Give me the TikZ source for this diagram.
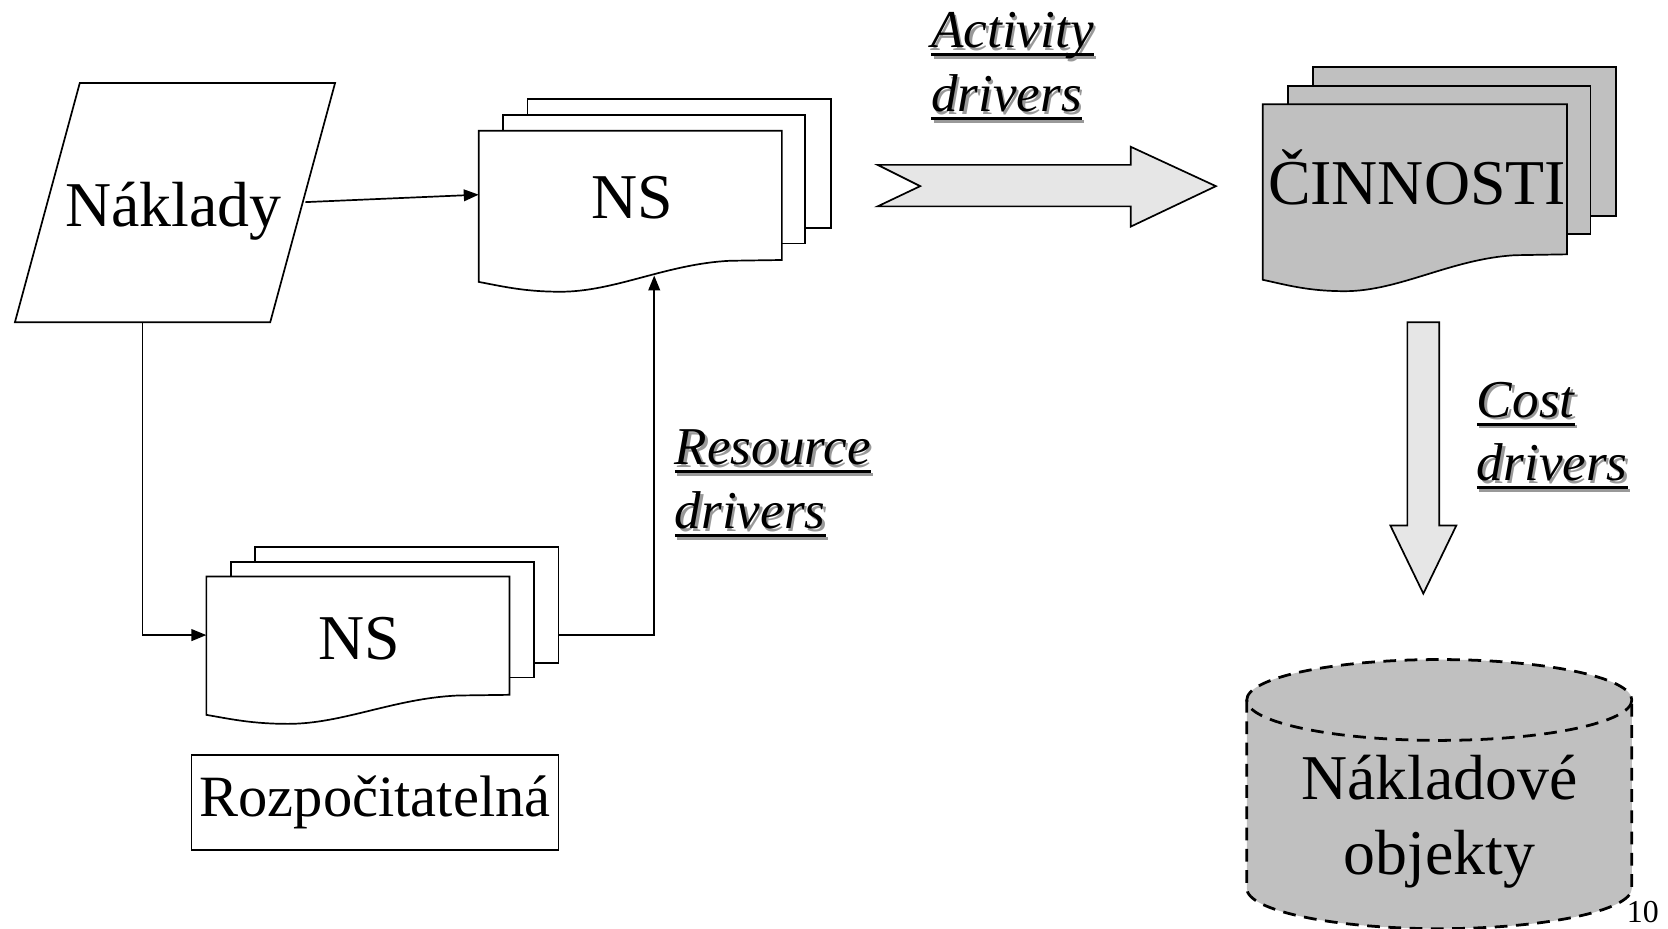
\documentclass[tikz,border=0pt]{standalone}
\usepackage{fontspec}
\setmainfont{Liberation Serif}
\usetikzlibrary{arrows.meta}
\newcommand\shul[1]{\setbox0\hbox{#1}%
 \rlap{\kern1.1pt\raisebox{-1.1pt}{\color{black!40}\rlap{\rule[-0.16em]{\wd0}{0.055em}}#1}}%
 \rlap{\rule[-0.16em]{\wd0}{0.055em}}#1}
\newcommand\mydocpage[5]{%
 \filldraw[fill=#5, line width=0.8pt, line join=miter] (#1,#2) -- ({#1+#3},#2) -- ({#1+#3},{#2+0.855*#4}) -- ({#1+0.83*#3},{#2+0.86*#4}) .. controls ({#1+0.62*#3},{#2+0.88*#4}) and ({#1+0.45*#3},{#2+1.065*#4}) .. ({#1+0.27*#3},{#2+1.065*#4}) .. controls ({#1+0.15*#3},{#2+1.065*#4}) and ({#1+0.08*#3},{#2+1.03*#4}) .. (#1,{#2+#4}) -- cycle;}
\definecolor{dgray}{HTML}{C0C0C0}
\definecolor{lgray}{HTML}{E6E6E6}
\tikzset{
 big/.style={font=\fontsize{30}{36}\selectfont, inner sep=0pt},
 lbl/.style={font=\fontsize{25}{30}\selectfont\itshape, inner sep=0pt, anchor=base west},
 conn/.style={line width=0.8pt, -{Triangle[length=7pt,width=5.5pt]}},
 thin/.style={line width=0.8pt},
 cyl/.style={line width=1.3pt, dash pattern=on 6pt off 4pt},
}
\begin{document}
\begin{tikzpicture}[x=0.5pt,y=-0.5pt]
\useasboundingbox (0,0) rectangle (1568,873);
% Naklady parallelogram
\draw[thin] (75,78) -- (315,78) -- (254,303) -- (14,303) -- cycle;
\node[big, anchor=base] (nakl) at (163,213) {Náklady};
\coordinate (naklR) at (287,190);
\coordinate (naklB) at (134,303);
% top NS stack
\filldraw[thin, fill=white] (496,93) rectangle (781,214);
\filldraw[thin, fill=white] (473,108) rectangle (757,229);
\mydocpage{450}{123}{285}{142}{white}
\node[big, anchor=base] (ns1) at (594,205) {NS};
\coordinate (ns1W) at (450,183);
\coordinate (ns1B) at (615,259);
% bottom NS stack
\filldraw[thin, fill=white] (240,514) rectangle (525,623);
\filldraw[thin, fill=white] (217,528) rectangle (502,637);
\mydocpage{194}{542}{285}{130}{white}
\node[big, anchor=base] (ns2) at (338,620) {NS};
\coordinate (ns2W) at (194,597);
\coordinate (ns2E) at (525,597);
% connectors
\draw[conn] (naklR) -- (ns1W);
\draw[conn] (naklB) |- (ns2W);
\draw[conn] (ns2E) -| (ns1B);
% Rozpocitatelna
\node[draw, thin, minimum width=172.5pt, minimum height=44.5pt, inner sep=0pt,
  font=\fontsize{27.5}{33}\selectfont] (roz) at (352.5,754.5) {Rozpočitatelná};
% labels
\node[lbl] (res1) at (634,437) {\shul{Resource}};
\node[lbl] (res2) at (634,497) {\shul{drivers}};
\node[lbl] (act1) at (875,45) {\shul{Activity}};
\node[lbl] (act2) at (875,105) {\shul{drivers}};
\node[lbl] (cost1) at (1388,392) {\shul{Cost}};
\node[lbl] (cost2) at (1388,452) {\shul{drivers}};
% horizontal block arrow
\coordinate (harrT) at (825,175);
\coordinate (harrH) at (1143,175);
\filldraw[thin, fill=lgray, line join=miter] (825,155) -- (1063,155) -- (1063,138) -- (harrH) -- (1063,213) -- (1063,194) -- (825,194) -- (865,175) -- cycle;
% CINNOSTI stack
\filldraw[thin, fill=dgray] (1234,63) rectangle (1519,203);
\filldraw[thin, fill=dgray] (1211,81) rectangle (1495,220);
\mydocpage{1187}{98}{286}{165}{dgray}
\node[big, anchor=base] (cin) at (1332,192) {ČINNOSTI};
% vertical block arrow
\coordinate (varrT) at (1338,303);
\coordinate (varrH) at (1338,558);
\filldraw[thin, fill=lgray, line join=miter] (1323,303) -- (1353,303) -- (1353,494) -- (1369,494) -- (varrH) -- (1307,494) -- (1323,494) -- cycle;
% cylinder
\fill[dgray] (1172,658) -- (1172,835) arc[start angle=180,end angle=0,x radius=181,y radius=38] -- (1534,658) arc[start angle=0,end angle=-180,x radius=181,y radius=38] -- cycle;
\draw[cyl] (1353,658) ellipse[x radius=181,y radius=38];
\draw[cyl] (1172,658) -- (1172,835) arc[start angle=180,end angle=0,x radius=181,y radius=38] -- (1534,658);
\node[big, anchor=base] (obj1) at (1353,752) {Nákladové};
\node[big, anchor=base] (obj2) at (1353,822) {objekty};
% page number
\node[font=\fontsize{15}{18}\selectfont, anchor=base west, inner sep=0pt] (pg) at (1529,867) {10};
\end{tikzpicture}
\end{document}
